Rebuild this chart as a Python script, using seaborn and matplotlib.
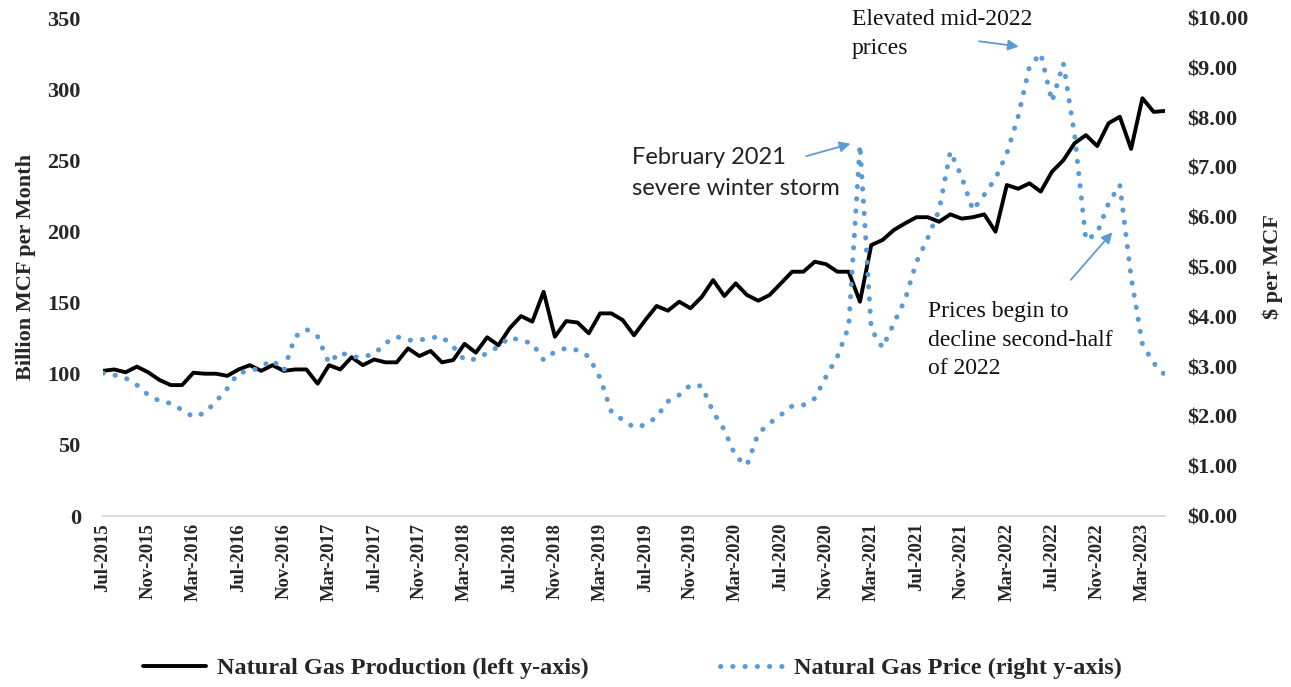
import numpy as np
import pandas as pd
import seaborn as sns
from matplotlib import pyplot as plt
from matplotlib.lines import Line2D

# ===== data (monthly, Jul-2015 .. May-2023) =====
months = pd.date_range("2015-07-01", periods=95, freq="MS")

production = [
    102, 103, 101, 105, 101, 95.6, 92, 92, 100.7, 100, 100, 98.5, 103, 106, 102,
    106, 102, 103, 103, 93, 106, 103, 111.6, 106, 110,
    108, 108, 117.8, 112.4, 116, 108, 109.6, 121, 114.8, 125.6, 120, 132, 140.5,
    136.6, 157.6, 126, 137, 136, 128.4, 142.4, 142.4, 137.7, 127,
    137.7, 147.6, 144.3, 150.6, 146, 154, 165.8, 154.6, 163.5, 155.3, 151.3, 155.3,
    163.5, 171.7, 171.7, 178.7, 177, 171.7, 171.7, 150.6, 190.4, 194, 201, 205.7, 210,
    210, 206.8, 212, 209, 210, 212, 199.8, 232.6, 230, 233.8, 228, 242, 250, 262,
    267.7, 260, 276, 280.6, 258, 293.6, 284, 284.7,
]

price = [
    2.87, 2.83, 2.77, 2.63, 2.43, 2.31, 2.26, 2.13, 1.99, 2.07, 2.30, 2.56, 2.88,
    2.90, 3.00, 3.13, 2.92, 3.60, 3.75, 3.60, 3.07, 3.29, 3.19, 3.20, 3.25,
    3.47, 3.60, 3.53, 3.53, 3.58, 3.60, 3.40, 3.13, 3.15, 3.27, 3.40, 3.59, 3.52,
    3.47, 3.13, 3.30, 3.37, 3.33, 3.20, 2.77, 2.09, 1.93, 1.78,
    1.83, 1.99, 2.30, 2.43, 2.63, 2.61, 2.09, 1.73, 1.19, 1.02, 1.66, 1.86, 2.03,
    2.21, 2.23, 2.36, 2.80, 3.20, 3.80, 7.45, 3.75, 3.38, 3.87, 4.35, 5.10,
    5.58, 6.14, 7.32, 6.81, 6.14, 6.45, 6.78, 7.28, 8.02, 9.02, 9.29, 8.32, 9.09,
    7.65, 5.54, 5.68, 6.28, 6.65, 4.80, 3.45, 3.07, 2.83,
]

tick_labels = [
    "Jul-2015", "Nov-2015", "Mar-2016", "Jul-2016", "Nov-2016", "Mar-2017",
    "Jul-2017", "Nov-2017", "Mar-2018", "Jul-2018", "Nov-2018", "Mar-2019",
    "Jul-2019", "Nov-2019", "Mar-2020", "Jul-2020", "Nov-2020", "Mar-2021",
    "Jul-2021", "Nov-2021", "Mar-2022", "Jul-2022", "Nov-2022", "Mar-2023",
]

left_ticks = [0, 50, 100, 150, 200, 250, 300, 350]
right_ticks = [0, 1, 2, 3, 4, 5, 6, 7, 8, 9, 10]

df = pd.DataFrame({"month": months, "pos": np.arange(len(months)),
                   "production": production, "price": price})

BLUE = "#5B9BD5"
W, H = 1291, 687
DOTS = (0, (0.05, 2.4))

sns.set_theme(style="white")
plt.rcParams["font.family"] = ["Liberation Serif", "DejaVu Serif"]

fig = plt.figure(figsize=(W / 100, H / 100), dpi=100)
ax = fig.add_axes([103 / W, 1 - 516 / H, (1165 - 103) / W, (516 - 18) / H])
ax2 = ax.twinx()

sns.lineplot(data=df, x="pos", y="production", ax=ax, color="black", lw=2.8)
sns.lineplot(data=df, x="pos", y="price", ax=ax2, color=BLUE, lw=3.6,
             linestyle=DOTS, dash_capstyle="round")

ax.set_xlim(0, len(months) - 1)
ax.set_ylim(0, 350)
ax2.set_ylim(0, 10)

ax.set_xticks(np.arange(0, len(months), 4))
ax.set_xticklabels(tick_labels, rotation=90, fontsize=13.5, fontweight="bold")
ax.set_yticks(left_ticks)
ax.set_yticklabels([str(t) for t in left_ticks], fontsize=16, fontweight="bold")
ax2.set_yticks(right_ticks)
ax2.set_yticklabels([f"${t:.2f}" for t in right_ticks], fontsize=16, fontweight="bold")

ax.tick_params(axis="x", length=0, pad=5)
ax.tick_params(axis="y", length=0, pad=16)
ax2.tick_params(axis="y", length=0, pad=16)

ax.set_xlabel("")
ax.set_ylabel("Billion MCF per Month", fontsize=16, fontweight="bold", labelpad=8)
ax2.set_ylabel("$ per MCF", fontsize=16, fontweight="bold", labelpad=10)

for a in (ax, ax2):
    for side in ("top", "left", "right"):
        a.spines[side].set_visible(False)
    a.spines["bottom"].set_color("#d9d9d9")
    a.spines["bottom"].set_linewidth(1.2)
    a.grid(False)

# ===== annotations =====
arrow = dict(arrowstyle="-|>", color=BLUE, lw=1.3, mutation_scale=16)
ax2.annotate("", xy=(66.4, 7.49), xytext=(62.0, 7.21), arrowprops=arrow)
ax2.annotate("", xy=(81.3, 9.42), xytext=(77.3, 9.54), arrowprops=arrow)
ax2.annotate("", xy=(89.5, 5.74), xytext=(85.5, 4.70), arrowprops=arrow)

fig.text(632 / W, 1 - 173 / H, "February 2021\nsevere winter storm",
         family=["Lato", "DejaVu Sans"], fontsize=17, va="center", ha="left",
         linespacing=1.55, color="#222222")
fig.text(852 / W, 1 - 34 / H, "Elevated mid-2022\nprices",
         fontsize=17, va="center", ha="left", linespacing=1.45, color="#111111")
fig.text(928 / W, 1 - 340 / H, "Prices begin to\ndecline second-half\nof 2022",
         fontsize=17, va="center", ha="left", linespacing=1.45, color="#111111")

# ===== legend =====
handles = [
    Line2D([], [], color="black", lw=2.8),
    Line2D([], [], color=BLUE, lw=3.6, linestyle=DOTS, dash_capstyle="round"),
]
labels = ["Natural Gas Production (left y-axis)", "Natural Gas Price (right y-axis)"]
fig.legend(handles, labels, loc="center", bbox_to_anchor=(0.49, 1 - 668 / H),
           ncol=2, frameon=False, handlelength=2.6, handletextpad=0.45,
           columnspacing=5.4, prop={"weight": "bold", "size": 17.5})

fig.savefig("out.png", dpi=100)
